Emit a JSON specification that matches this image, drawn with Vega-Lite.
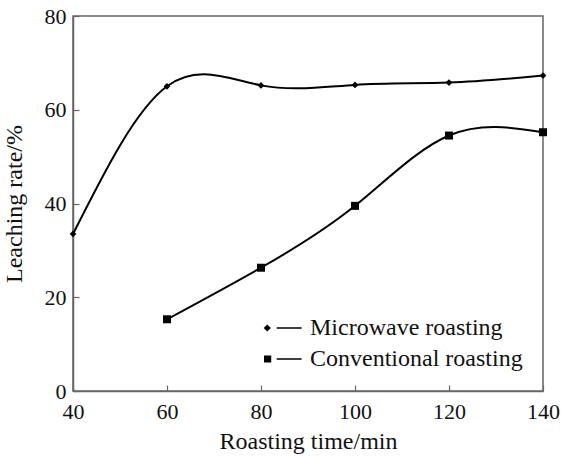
{
  "$schema": "https://vega.github.io/schema/vega-lite/v6.json",
  "width": 470,
  "height": 375,
  "autosize": {"type": "none"},
  "padding": {"left": 73, "top": 16, "right": 18, "bottom": 66},
  "background": "white",
  "config": {
    "font": "Liberation Serif",
    "view": {"stroke": "#666", "strokeWidth": 1.5},
    "axis": {
      "grid": false,
      "domainColor": "#666",
      "domainWidth": 1.5,
      "tickColor": "#666",
      "tickWidth": 1.2,
      "tickSize": -6,
      "labelFlush": false,
      "labelOverlap": false,
      "labelFont": "Liberation Serif",
      "labelFontSize": 22,
      "labelColor": "#111",
      "titleFont": "Liberation Serif",
      "titleFontSize": 24,
      "titleFontWeight": "normal",
      "titleColor": "#111"
    }
  },
  "data": {
    "values": [
      {"time": 40, "rate": 33.5, "series": "Microwave roasting"},
      {"time": 60, "rate": 65.0, "series": "Microwave roasting"},
      {"time": 80, "rate": 65.2, "series": "Microwave roasting"},
      {"time": 100, "rate": 65.3, "series": "Microwave roasting"},
      {"time": 120, "rate": 65.8, "series": "Microwave roasting"},
      {"time": 140, "rate": 67.3, "series": "Microwave roasting"},
      {"time": 60, "rate": 15.3, "series": "Conventional roasting"},
      {"time": 80, "rate": 26.3, "series": "Conventional roasting"},
      {"time": 100, "rate": 39.5, "series": "Conventional roasting"},
      {"time": 120, "rate": 54.5, "series": "Conventional roasting"},
      {"time": 140, "rate": 55.2, "series": "Conventional roasting"}
    ]
  },
  "encoding": {
    "x": {
      "field": "time",
      "type": "quantitative",
      "scale": {"domain": [40, 140], "nice": false, "zero": false},
      "axis": {"values": [40, 60, 80, 100, 120, 140], "title": "Roasting time/min", "labelPadding": 16, "titlePadding": 7}
    },
    "y": {
      "field": "rate",
      "type": "quantitative",
      "scale": {"domain": [0, 80], "nice": false},
      "axis": {"values": [0, 20, 40, 60, 80], "title": "Leaching rate/%", "labelPadding": 13, "titlePadding": 18}
    }
  },
  "layer": [
    {
      "mark": {"type": "line", "interpolate": "natural", "color": "black", "strokeWidth": 2},
      "encoding": {"detail": {"field": "series", "type": "nominal"}}
    },
    {
      "mark": {"type": "point", "filled": true, "color": "black", "opacity": 1},
      "encoding": {
        "shape": {
          "field": "series",
          "type": "nominal",
          "scale": {"domain": ["Microwave roasting", "Conventional roasting"], "range": ["diamond", "square"]},
          "legend": null
        },
        "size": {
          "field": "series",
          "type": "nominal",
          "scale": {"domain": ["Microwave roasting", "Conventional roasting"], "range": [45, 64]},
          "legend": null
        }
      }
    },
    {
      "transform": [{"filter": "datum.time < 0"}],
      "mark": {"type": "point", "filled": true, "color": "black", "opacity": 1},
      "encoding": {
        "shape": {
          "field": "series",
          "type": "nominal",
          "scale": {
            "domain": ["Microwave roasting", "Conventional roasting"],
            "range": [
              "M-0.83,-0.19L-0.64,0L-0.83,0.19L-1.02,0Z M-0.33,-0.045H0.98V0.045H-0.33Z",
              "M-1,-0.19H-0.62V0.19H-1Z M-0.33,-0.045H0.98V0.045H-0.33Z"
            ]
          },
          "legend": {
            "title": null,
            "orient": "bottom-right",
            "offset": 20,
            "padding": 0,
            "symbolSize": 1444,
            "symbolFillColor": "black",
            "symbolStrokeColor": "black",
            "symbolStrokeWidth": 0,
            "symbolOpacity": 1,
            "labelFont": "Liberation Serif",
            "labelFontSize": 24,
            "labelColor": "#111",
            "labelOffset": 8,
            "rowPadding": -3,
            "labelLimit": 400
          }
        }
      }
    }
  ],
  "resolve": {"scale": {"shape": "independent", "size": "independent"}, "legend": {"shape": "independent"}}
}
